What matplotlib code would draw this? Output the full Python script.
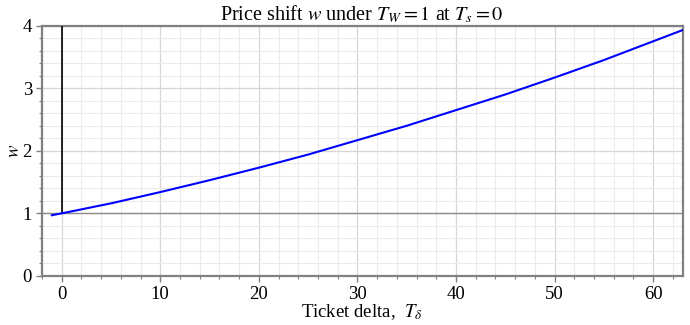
import matplotlib
matplotlib.use('Agg')
import matplotlib.pyplot as plt
from matplotlib.ticker import MultipleLocator

plt.rcParams['font.family'] = ['Liberation Serif', 'DejaVu Serif']
plt.rcParams['mathtext.fontset'] = 'stix'

# ticket delta vs price shift w
t_delta = [-1, 0, 5, 10, 15, 20, 25, 30, 35, 40, 45, 50, 55, 60, 63]
w_shift = [0.97, 1.0, 1.16, 1.34, 1.53, 1.73, 1.94, 2.17, 2.40, 2.65, 2.90, 3.17, 3.45, 3.75, 3.93]

fig = plt.figure(figsize=(6.9, 3.25), dpi=100)
ax = fig.add_axes([0.0604, 0.151, 0.929, 0.770])

ax.set_xlim(-2.03, 63.0)
ax.set_ylim(0, 4)

# grid
ax.xaxis.set_major_locator(MultipleLocator(10))
ax.xaxis.set_minor_locator(MultipleLocator(2))
ax.yaxis.set_major_locator(MultipleLocator(1))
ax.yaxis.set_minor_locator(MultipleLocator(0.2))
ax.grid(which='major', color='#d6d6d6', lw=0.9)
ax.grid(which='minor', color='#ebebeb', lw=0.8)
ax.set_axisbelow(True)

# reference lines
ax.axhline(1, color='#8c8c8c', lw=1.0, zorder=2)
ax.plot([0, 0], [1, 4], color='black', lw=1.2, zorder=3)

ax.plot(t_delta, w_shift, color='#0000ff', lw=1.5, zorder=4)

for s in ax.spines.values():
    s.set_color('#808080')
    s.set_linewidth(1.6)
ax.tick_params(which='major', length=4, width=1, color='#808080', labelsize=13.5, pad=3)
ax.tick_params(which='minor', length=2, width=0.8, color='#808080')

ax.set_title(r'Price shift $w$ under $T_W=1$ at $T_s=0$', fontsize=14.5, pad=3)
ax.set_xlabel(r'Ticket delta,  $T_\delta$', fontsize=13.5, labelpad=0)
ax.set_ylabel(r'$w$', fontsize=13.5, rotation=90, labelpad=0)

fig.savefig('out.png', dpi=100)
